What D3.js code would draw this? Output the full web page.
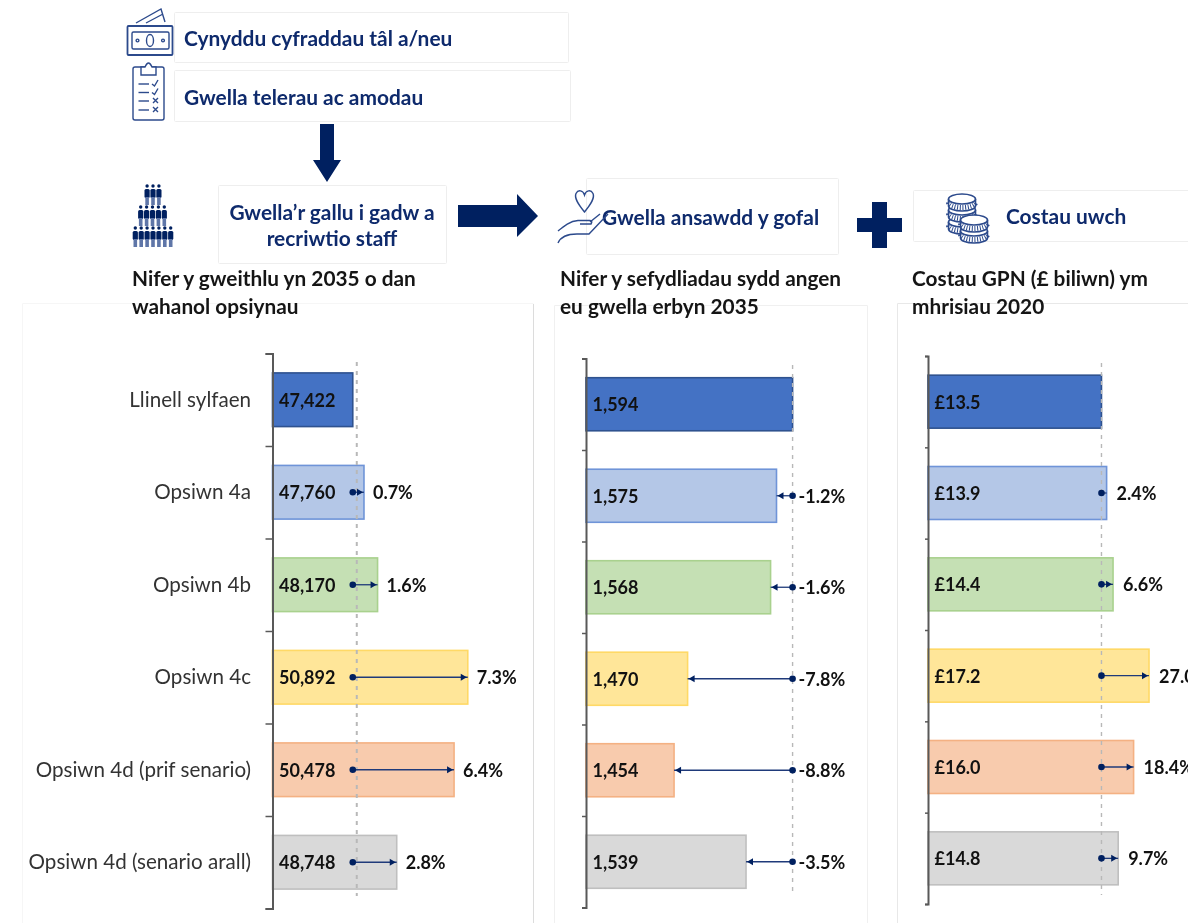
<!doctype html>
<html>
<head>
<meta charset="UTF-8">
<title>Opsiynau gweithlu</title>
<script src="https://d3js.org/d3.v7.min.js"></script>
<style>
  html, body { margin: 0; background: #fff; }
  svg { display: block; filter: blur(0.6px); font-family: Lato, "Open Sans", sans-serif; }
  .head { fill: #0e2a6c; font-weight: 700; font-size: 20.9px; }
  .title { fill: #151515; font-weight: 700; font-size: 20.8px; }
  .cat { fill: #333; font-size: 20.6px; }
  .val { fill: #111; font-weight: 700; font-size: 18px; }
  .frame { fill: none; stroke: #eeeeee; }
  .icon { fill: none; stroke: #2c4a8c; stroke-width: 1.4; }
  .domain { stroke: #595959; stroke-width: 2; }
  .tick line { stroke: #595959; stroke-width: 1.5; }
</style>
</head>
<body>
<div id="chart"></div>
<script>
var categories = ["Llinell sylfaen", "Opsiwn 4a", "Opsiwn 4b", "Opsiwn 4c", "Opsiwn 4d (prif senario)", "Opsiwn 4d (senario arall)"];
var workforce = [47422, 47760, 48170, 50892, 50478, 48748];
var workforcePct = [null, "0.7%", "1.6%", "7.3%", "6.4%", "2.8%"];
var settings = [1594, 1575, 1568, 1470, 1454, 1539];
var settingsPct = [null, "-1.2%", "-1.6%", "-7.8%", "-8.8%", "-3.5%"];
var costs = [13.5, 13.9, 14.4, 17.2, 16.0, 14.8];
var costsPct = [null, "2.4%", "6.6%", "27.0%", "18.4%", "9.7%"];

var fills = ["#4472c4", "#b4c7e7", "#c5e0b4", "#ffe699", "#f8cbad", "#d9d9d9"];
var strokes = ["#2f528f", "#6f94d8", "#a9d18e", "#ffd966", "#f4b183", "#bfbfbf"];
var navy = "#002060";

var svg = d3.select("#chart").append("svg")
    .attr("width", 1188)
    .attr("height", 923);

// pale boxes behind the headings and charts
var boxes = [[174, 12, 394, 50], [174, 70, 396, 51], [218, 185, 228, 78], [586, 178, 252, 76], [913, 190, 290, 51]];
svg.selectAll("rect.box").data(boxes).enter().append("rect")
    .attr("class", "frame box")
    .attr("x", function(d) { return d[0] + .5; })
    .attr("y", function(d) { return d[1] + .5; })
    .attr("width", function(d) { return d[2]; })
    .attr("height", function(d) { return d[3]; })
    .attr("rx", 1);

svg.append("path").attr("class", "frame").attr("d", "M22.5 940V303.5H533.5").style("stroke", "#f6f6f6");
svg.append("path").attr("class", "frame").attr("d", "M533.5 304V940").style("stroke", "#dcdcdc");
svg.append("path").attr("class", "frame").attr("d", "M554.5 940V305.5H867.5V940").style("stroke", "#f0f0f0");
svg.append("path").attr("class", "frame").attr("d", "M897.5 940V303.5H1200").style("stroke", "#e8e8e8");

// block arrows and plus
svg.append("path").attr("fill", navy).attr("d", "M320 124H334V160H341L327 182L313 160H320Z");
svg.append("path").attr("fill", navy).attr("d", "M458 205H517V194L538 216L517 237V227H458Z");
svg.append("path").attr("fill", navy).attr("d", "M872 202H887V218H902V232H887V248H872V232H857V218H872Z");

function headText(txt, x, y, anchor) {
    svg.append("text").attr("class", "head").attr("x", x).attr("y", y)
        .attr("text-anchor", anchor || "start").text(txt);
}
headText("Cynyddu cyfraddau tâl a/neu", 184, 46);
headText("Gwella telerau ac amodau", 184, 105);
headText("Gwella’r gallu i gadw a", 332, 220, "middle");
headText("recriwtio staff", 332, 246, "middle");
headText("Gwella ansawdd y gofal", 602, 225);
headText("Costau uwch", 1006, 224);

function titleText(lines, x) {
    lines.forEach(function(l, i) {
        svg.append("text").attr("class", "title").attr("x", x).attr("y", 286 + i * 28).text(l);
    });
}
titleText(["Nifer y gweithlu yn 2035 o dan", "wahanol opsiynau"], 132);
titleText(["Nifer y sefydliadau sydd angen", "eu gwella erbyn 2035"], 560);
titleText(["Costau GPN (£ biliwn) ym", "mhrisiau 2020"], 912);

drawIcons();

function drawPanel(cfg) {
    var g = svg.append("g");
    var x = d3.scaleLinear().domain(cfg.domain).range(cfg.xRange);
    var y = d3.scaleBand().domain(categories).range(cfg.yRange).paddingInner(.42).paddingOuter(.21);
    var base = cfg.values[0];
    var rows = cfg.values.map(function(v, i) {
        return { cat: categories[i], v: v, pct: cfg.pct[i], i: i };
    });

    g.selectAll("rect.bar").data(rows).enter().append("rect")
        .attr("class", "bar")
        .attr("x", x(cfg.domain[0]))
        .attr("y", function(d) { return y(d.cat); })
        .attr("width", function(d) { return x(d.v) - x(cfg.domain[0]); })
        .attr("height", y.bandwidth())
        .attr("fill", function(d) { return fills[d.i]; })
        .attr("stroke", function(d) { return strokes[d.i]; })
        .attr("stroke-width", 1.6);

    // axis ticks sit between the bars, so a 0..6 scale over the same range
    var edges = d3.scaleLinear().domain([0, categories.length]).range(cfg.yRange);
    g.append("g")
        .attr("transform", "translate(" + x(cfg.domain[0]) + ",0)")
        .call(d3.axisLeft(edges).ticks(categories.length).tickFormat("").tickSize(cfg.tick));

    // dashed reference line at baseline value
    g.append("line")
        .attr("x1", x(base) + cfg.dashShift).attr("x2", x(base) + cfg.dashShift)
        .attr("y1", cfg.dashY[0]).attr("y2", cfg.dashY[1])
        .attr("stroke", "#b8b8b8").attr("stroke-width", cfg.dashW).attr("stroke-dasharray", "4 5");

    g.selectAll("text.val").data(rows).enter().append("text")
        .attr("class", "val")
        .attr("x", x(cfg.domain[0]) + 6.5)
        .attr("y", function(d) { return y(d.cat) + y.bandwidth() / 2 + 7; })
        .text(function(d) { return cfg.fmt(d.v); });

    var changes = rows.filter(function(d) { return d.pct; });
    var arrows = g.selectAll("g.arrow").data(changes).enter().append("g").attr("class", "arrow")
        .attr("transform", function(d) { return "translate(0," + (y(d.cat) + y.bandwidth() / 2) + ")"; });
    arrows.append("line")
        .attr("x1", x(base))
        .attr("x2", function(d) { return x(d.v); })
        .attr("stroke", "#1f3a7a").attr("stroke-width", 1.3);
    arrows.filter(function(d) { return Math.abs(x(d.v) - x(base)) > 6; }).append("path")
        .attr("fill", navy)
        .attr("d", function(d) {
            var tip = x(d.v), dir = tip > x(base) ? -1 : 1;
            tip += dir;
            return "M" + tip + " 0L" + (tip + dir * 6) + " -3.5V3.5Z";
        });
    arrows.append("circle").attr("cx", x(base)).attr("r", 3.3).attr("fill", navy);

    g.selectAll("text.pct").data(changes).enter().append("text")
        .attr("class", "val")
        .attr("x", function(d) { return cfg.pctX(x, d, base); })
        .attr("y", function(d) { return y(d.cat) + y.bandwidth() / 2 + 7; })
        .text(function(d) { return d.pct; });

    if (cfg.labels) {
        g.selectAll("text.cat").data(categories).enter().append("text")
            .attr("class", "cat")
            .attr("x", 251)
            .attr("y", function(d) { return y(d) + y.bandwidth() / 2 + 7; })
            .attr("text-anchor", "end")
            .text(function(d) { return d; });
    }
}

drawPanel({
    values: workforce, pct: workforcePct, domain: [45000, 52000], xRange: [272.5, 504.5], yRange: [353.5, 908.5],
    tick: 7, dashShift: 4, dashW: 2, dashY: [362, 896], labels: true, fmt: d3.format(","),
    pctX: function(x, d) { return x(d.v) + 9; }
});
drawPanel({
    values: settings, pct: settingsPct, domain: [1350, 1650], xRange: [586, 840], yRange: [358.5, 907.5],
    tick: 4, dashShift: 0, dashW: 1.4, dashY: [365, 895], fmt: d3.format(","),
    pctX: function(x, d, base) { return x(base) + 6; }
});
drawPanel({
    values: costs, pct: costsPct, domain: [0, 20], xRange: [928, 1185], yRange: [356, 904],
    tick: 3, dashShift: 0, dashW: 1.4, dashY: [363, 895], fmt: function(v) { return "£" + v.toFixed(1); },
    pctX: function(x, d) { return x(d.v) + 10; }
});

function drawIcons() {
    var ic = svg.append("g").attr("class", "icon");

    // banknotes
    ic.append("path").attr("d", "M136 23L161 9L165 22M146 23L163 14");
    ic.append("rect").attr("x", 127.5).attr("y", 26).attr("width", 45).attr("height", 29).attr("rx", 1).style("stroke-width", 1.8);
    ic.append("rect").attr("x", 132).attr("y", 32).attr("width", 37).attr("height", 17).attr("rx", 1.5);
    ic.append("ellipse").attr("cx", 150).attr("cy", 40.5).attr("rx", 3.5).attr("ry", 6);
    ic.append("circle").attr("cx", 137.5).attr("cy", 40.5).attr("r", 1.4);
    ic.append("circle").attr("cx", 163).attr("cy", 40.5).attr("r", 1.4);

    // clipboard
    ic.append("rect").attr("x", 133).attr("y", 67).attr("width", 31).attr("height", 53).attr("rx", 2);
    ic.append("path").attr("d", "M141 75V67H145Q148.5 59 152 67H156V75Z").style("fill", "#fff");
    [84, 92.5, 101, 110].forEach(function(yy, i) {
        ic.append("path").attr("d", "M138.5 " + yy + "H149");
        if (i < 2) ic.append("path").attr("d", "M152 " + yy + "L154.5 " + (yy + 2) + "L158 " + (yy - 4));
        else ic.append("path").attr("d", "M153 " + (yy - 3) + "L158 " + (yy + 2) + "M158 " + (yy - 3) + "L153 " + (yy + 2));
    });

    // rows of people
    var crowd = [[3, 153, 184], [5, 152.5, 205], [7, 153, 226]];
    crowd.forEach(function(row) {
        for (var k = 0; k < row[0]; k++) {
            var px = row[1] + (k - (row[0] - 1) / 2) * 5.9;
            svg.append("circle").attr("cx", px).attr("cy", row[2] + 2).attr("r", 1.7).attr("fill", navy);
            svg.append("rect").attr("x", px - 2.6).attr("y", row[2] + 5).attr("width", 5.2).attr("height", 9).attr("rx", 1.5).attr("fill", navy);
            svg.append("rect").attr("x", px - 1.8).attr("y", row[2] + 13).attr("width", 3.6).attr("height", 8).attr("fill", "#5f76a8");
        }
    });

    // hand holding a heart
    ic.append("path").attr("d", "M584.5 212C578 204 574 198 576 193.5C578 189.5 583 190 584.5 195C586 190 591 189.5 593 193.5C595 198 591 204 584.5 212Z");
    ic.append("path").attr("d", "M558 231C564 226 570 221 578 220.5H590Q593 221 591 224H580M558 243C561 236 568 234 577 234H589L608 214");
    ic.append("path").attr("d", "M590 222L600 214");

    // coins: two stacks with ridged edges
    function coins(cx, ys, rx) {
        ys.forEach(function(cy) {
            ic.append("path").attr("d", "M" + (cx - rx) + " " + cy + "V" + (cy + 7) + "A" + rx + " 5 0 0 0 " + (cx + rx) + " " + (cy + 7) + "V" + cy)
                .style("fill", "#fff").style("stroke-width", 1.6);
            ic.append("path").attr("d", "M" + (cx - rx) + " " + (cy + 3.5) + "A" + rx + " 5 0 0 0 " + (cx + rx) + " " + (cy + 3.5))
                .style("stroke-width", 5).style("stroke-dasharray", "1 1.6");
            ic.append("ellipse").attr("cx", cx).attr("cy", cy).attr("rx", rx).attr("ry", 5).style("fill", "#fff").style("stroke-width", 1.6);
        });
    }
    coins(962, [222, 210, 199], 13.5);
    coins(974, [231, 220], 13.5);
}
</script>
</body>
</html>
